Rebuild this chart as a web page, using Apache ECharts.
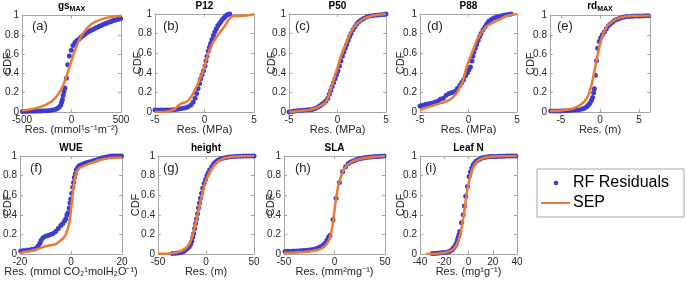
<!DOCTYPE html>
<html>
<head>
<meta charset="utf-8">
<script src="https://cdn.jsdelivr.net/npm/echarts@6/dist/echarts.min.js"></script>
<style>
html, body { margin: 0; padding: 0; background: #fff; }
#chart { width: 685px; height: 284px; }
</style>
</head>
<body>
<div id="chart"></div>
<script>
// ---- panel titles / axis names / ticks ----
var titles = ['{t|gs}{s|MAX}', '{t|P12}', '{t|P50}', '{t|P88}', '{t|rd}{s|MAX}',
              '{t|WUE}', '{t|height}', '{t|SLA}', '{t|Leaf N}'];
var tags = ['(a)', '(b)', '(c)', '(d)', '(e)', '(f)', '(g)', '(h)', '(i)'];
var xNames = ['Res. (mmol¹s⁻¹m⁻²)', 'Res. (MPa)', 'Res. (MPa)', 'Res. (MPa)', 'Res. (m)',
              'Res. (mmol CO₂¹molH₂O⁻¹)', 'Res. (m)', 'Res. (mm²mg⁻¹)', 'Res. (mg¹g⁻¹)'];
var xRanges = [[-500, 500], [-5, 5], [-5, 5], [-5, 5], [-6.4, 6.4],
               [-20, 20], [-50, 50], [-50, 50], [-40, 40]];
var xTicks = [[-500, 0, 500], [-5, 0, 5], [-5, 0, 5], [-5, 0, 5], [-5, 0, 5],
              [-20, 0, 20], [-50, 0, 50], [-50, 0, 50], [-40, -20, 0, 20, 40]];
var yTicks = [0, 0.2, 0.4, 0.6, 0.8, 1];

// ---- RF residuals (empirical CDF, dots) ----
var gsRF = [[-495,0.005],[-460,0.006],[-430,0.007],[-400,0.008],[-370,0.009],[-340,0.01],[-310,0.011],[-280,0.012],[-250,0.014],[-220,0.016],[-190,0.02],[-165,0.025],[-145,0.035],[-125,0.05],[-110,0.07],[-100,0.1],[-92,0.13],[-84,0.17],[-76,0.21],[-66,0.25],[-52,0.35],[-38,0.49],[-22,0.58],[-2,0.64],[15,0.69],[35,0.72],[55,0.74],[75,0.755],[95,0.775],[115,0.79],[135,0.805],[155,0.82],[175,0.835],[195,0.845],[215,0.855],[235,0.865],[255,0.875],[275,0.885],[295,0.895],[315,0.905],[335,0.915],[355,0.92],[375,0.93],[395,0.935],[415,0.945],[435,0.95],[455,0.955],[475,0.962],[495,0.97]];
var p12RF = [[-5,0.02],[-4.7,0.02],[-4.4,0.02],[-4.1,0.02],[-3.8,0.02],[-3.5,0.02],[-3.2,0.022],[-2.9,0.025],[-2.6,0.03],[-2.3,0.035],[-2.0,0.04],[-1.7,0.05],[-1.4,0.07],[-1.15,0.1],[-0.95,0.14],[-0.8,0.19],[-0.65,0.24],[-0.5,0.29],[-0.38,0.34],[-0.25,0.38],[-0.1,0.42],[0.05,0.47],[0.15,0.52],[0.25,0.57],[0.38,0.62],[0.5,0.66],[0.62,0.7],[0.75,0.74],[0.9,0.78],[1.05,0.82],[1.2,0.85],[1.35,0.88],[1.5,0.9],[1.65,0.92],[1.8,0.945],[1.95,0.96],[2.1,0.975],[2.25,0.99],[2.4,0.995],[2.55,1]];
var p50RF = [[-5,0],[-4.7,0.005],[-4.4,0.01],[-4.1,0.012],[-3.8,0.015],[-3.5,0.017],[-3.2,0.02],[-2.9,0.022],[-2.6,0.026],[-2.3,0.035],[-2.0,0.05],[-1.8,0.065],[-1.6,0.08],[-1.4,0.095],[-1.2,0.11],[-1.0,0.14],[-0.85,0.18],[-0.7,0.22],[-0.55,0.26],[-0.4,0.3],[-0.25,0.34],[-0.1,0.38],[0.05,0.42],[0.2,0.47],[0.35,0.52],[0.5,0.57],[0.65,0.61],[0.8,0.65],[0.95,0.69],[1.1,0.73],[1.25,0.77],[1.4,0.8],[1.6,0.84],[1.8,0.87],[2.0,0.9],[2.2,0.92],[2.45,0.94],[2.7,0.955],[3.0,0.97],[3.3,0.98],[3.6,0.983],[3.9,0.986],[4.2,0.99],[4.5,0.993],[4.8,0.996],[5,1]];
var p88RF = [[-5,0.06],[-4.7,0.07],[-4.4,0.08],[-4.1,0.085],[-3.8,0.09],[-3.5,0.1],[-3.2,0.11],[-2.9,0.13],[-2.6,0.14],[-2.3,0.17],[-2.0,0.19],[-1.7,0.2],[-1.4,0.21],[-1.15,0.24],[-0.9,0.27],[-0.7,0.3],[-0.5,0.33],[-0.3,0.37],[-0.1,0.4],[0.05,0.43],[0.2,0.46],[0.35,0.52],[0.45,0.57],[0.55,0.61],[0.7,0.65],[0.85,0.69],[1.0,0.73],[1.15,0.77],[1.3,0.8],[1.5,0.84],[1.7,0.87],[1.9,0.9],[2.1,0.925],[2.35,0.945],[2.6,0.96],[2.9,0.97],[3.2,0.975],[3.5,0.985],[3.8,0.99],[4.1,0.995],[4.4,1]];
var rdRF = [[-6.3,0.01],[-5.9,0.01],[-5.5,0.01],[-5.1,0.01],[-4.7,0.012],[-4.3,0.013],[-3.9,0.015],[-3.5,0.017],[-3.1,0.02],[-2.7,0.022],[-2.3,0.03],[-2.0,0.04],[-1.7,0.055],[-1.5,0.07],[-1.3,0.09],[-1.1,0.12],[-0.95,0.15],[-0.82,0.2],[-0.72,0.24],[-0.6,0.38],[-0.45,0.53],[-0.3,0.66],[-0.1,0.73],[0.1,0.77],[0.3,0.8],[0.55,0.83],[0.8,0.86],[1.05,0.89],[1.3,0.91],[1.6,0.93],[1.9,0.95],[2.2,0.96],[2.5,0.97],[2.8,0.98],[3.1,0.985],[3.4,0.99],[3.8,0.99],[4.2,0.992],[4.6,0.994],[5.0,0.995],[5.4,0.996],[5.8,0.997],[6.2,0.998]];
var wueRF = [[-19.7,0.03],[-18.5,0.035],[-17,0.04],[-15.5,0.045],[-14.3,0.05],[-13.5,0.06],[-12.8,0.085],[-12.2,0.11],[-11.7,0.14],[-11,0.165],[-10,0.18],[-9,0.19],[-8,0.2],[-7,0.21],[-6,0.23],[-5,0.26],[-4,0.29],[-3.2,0.31],[-2.5,0.34],[-2,0.36],[-1.6,0.4],[-1.1,0.42],[-0.7,0.47],[-0.4,0.52],[-0.1,0.56],[0.3,0.62],[0.7,0.68],[1.0,0.73],[1.3,0.78],[1.7,0.82],[2.1,0.86],[2.6,0.88],[3.2,0.9],[4,0.91],[5,0.92],[6,0.93],[7,0.94],[8,0.945],[9,0.955],[10,0.96],[11,0.97],[12,0.98],[13,0.985],[14,0.99],[15,0.995],[16,1],[17,1],[18,1],[19,1],[19.8,1]];
var heightRF = [[-35,0.005],[-32,0.007],[-29,0.01],[-26,0.015],[-23.5,0.025],[-21.5,0.04],[-19.5,0.055],[-17.5,0.075],[-16,0.1],[-14.8,0.13],[-13.8,0.17],[-12.8,0.21],[-11.8,0.26],[-10.8,0.31],[-9.8,0.36],[-8.8,0.41],[-7.8,0.47],[-6.8,0.52],[-5.8,0.57],[-4.6,0.62],[-3.4,0.67],[-2,0.72],[-0.5,0.76],[1,0.8],[2.5,0.83],[4,0.86],[6,0.89],[8,0.92],[10,0.94],[12,0.955],[14,0.965],[16,0.975],[18.5,0.98],[21,0.985],[24,0.99],[27,0.993],[30,0.995],[33,0.997],[36,0.998],[39,1],[42,1],[45,1],[48,1],[50,1]];
var slaRF = [[-49,0.025],[-46,0.027],[-43,0.028],[-40,0.03],[-37,0.031],[-34,0.033],[-31,0.035],[-28,0.038],[-25,0.042],[-22,0.046],[-19,0.052],[-16.5,0.06],[-14,0.075],[-11.5,0.09],[-9.5,0.11],[-7.5,0.14],[-6,0.17],[-4.5,0.19],[-1.5,0.35],[1.5,0.57],[4.8,0.73],[8,0.84],[11,0.89],[13.5,0.92],[16,0.94],[18.5,0.95],[21,0.96],[23.5,0.97],[26,0.975],[28.5,0.98],[31,0.985],[33.5,0.988],[36,0.99],[38.5,0.992],[41,0.994],[43.5,0.996],[46,0.998],[49,1]];
var leafNRF = [[-30,0.005],[-28,0.006],[-26,0.008],[-24,0.01],[-22,0.012],[-20,0.015],[-18,0.018],[-16.5,0.022],[-15,0.03],[-13.8,0.04],[-12.8,0.055],[-11.8,0.07],[-10.8,0.09],[-10,0.11],[-9.2,0.14],[-8.5,0.17],[-7.8,0.2],[-7.2,0.23],[-5.8,0.32],[-4.4,0.4],[-3.4,0.49],[-2.3,0.59],[-0.9,0.69],[0.5,0.79],[1.6,0.84],[2.8,0.88],[4,0.91],[5.2,0.93],[6.5,0.95],[8,0.96],[9.5,0.97],[11,0.98],[13,0.985],[15,0.99],[17,0.992],[19,0.994],[21,0.995],[23,0.996],[25,0.997],[27,0.998],[29,0.998],[31,0.999],[33,1],[35,1],[37,1],[39,1]];

// ---- SEP (fitted CDF, lines) ----
var gsSEP = [[-500,0.015],[-450,0.022],[-400,0.03],[-350,0.042],[-300,0.058],[-250,0.08],[-200,0.11],[-160,0.15],[-130,0.19],[-100,0.24],[-75,0.3],[-50,0.37],[-25,0.45],[0,0.53],[25,0.61],[50,0.68],[75,0.74],[100,0.79],[150,0.86],[200,0.91],[250,0.94],[300,0.96],[350,0.975],[400,0.985],[450,0.992],[500,0.997]];
var p12SEP = [[-5,0],[-4,0.003],[-3.5,0.01],[-3,0.03],[-2.6,0.07],[-2.3,0.09],[-1.9,0.1],[-1.6,0.12],[-1.3,0.16],[-1.0,0.22],[-0.7,0.28],[-0.4,0.35],[-0.1,0.43],[0.1,0.5],[0.3,0.57],[0.5,0.63],[0.8,0.7],[1.1,0.75],[1.4,0.79],[1.7,0.83],[2.0,0.87],[2.3,0.92],[2.6,0.96],[2.9,0.98],[3.5,0.98],[4.2,0.985],[4.7,0.99],[5,1]];
var p50SEP = [[-5,0],[-4.5,0.005],[-4,0.01],[-3.5,0.015],[-3,0.02],[-2.5,0.03],[-2,0.05],[-1.5,0.08],[-1.2,0.1],[-1.0,0.14],[-0.8,0.2],[-0.5,0.29],[-0.2,0.39],[0,0.45],[0.3,0.55],[0.6,0.63],[1.0,0.73],[1.3,0.8],[1.6,0.85],[2.0,0.9],[2.5,0.94],[3,0.965],[3.5,0.98],[4,0.99],[4.5,0.995],[5,1]];
var p88SEP = [[-5,0.02],[-4.5,0.04],[-4,0.055],[-3.5,0.07],[-3,0.085],[-2.5,0.1],[-2,0.12],[-1.7,0.14],[-1.4,0.17],[-1.1,0.21],[-0.9,0.25],[-0.6,0.31],[-0.4,0.38],[-0.2,0.46],[0.1,0.54],[0.4,0.61],[0.7,0.69],[1.0,0.76],[1.4,0.82],[1.8,0.87],[2.3,0.9],[2.7,0.92],[3.1,0.94],[3.5,0.96],[3.9,0.98],[4.4,0.99],[5,1]];
var rdSEP = [[-6.4,0.01],[-5,0.015],[-4,0.025],[-3.3,0.04],[-2.8,0.06],[-2.4,0.08],[-2,0.11],[-1.7,0.14],[-1.4,0.19],[-1.15,0.26],[-0.9,0.35],[-0.7,0.43],[-0.5,0.51],[-0.3,0.59],[-0.1,0.67],[0.15,0.75],[0.4,0.81],[0.7,0.86],[1.0,0.9],[1.5,0.93],[2.0,0.96],[2.5,0.975],[3.2,0.99],[4,0.995],[5,0.998],[6.4,1]];
var wueSEP = [[-20,0.01],[-18,0.02],[-16,0.03],[-14,0.045],[-12,0.06],[-10,0.08],[-8,0.09],[-6,0.1],[-4.5,0.13],[-3,0.16],[-2,0.2],[-1.2,0.26],[-0.6,0.33],[-0.2,0.4],[0.2,0.5],[0.6,0.6],[1,0.69],[1.5,0.77],[2,0.83],[2.6,0.86],[3.5,0.88],[5,0.9],[7,0.92],[9,0.94],[11,0.96],[13,0.97],[15,0.98],[17,0.982],[20,0.985]];
var heightSEP = [[-50,0.003],[-40,0.006],[-35,0.01],[-30,0.018],[-26,0.03],[-22,0.05],[-19,0.08],[-16.5,0.12],[-14.5,0.17],[-12.5,0.24],[-10.5,0.32],[-8.5,0.41],[-6.5,0.5],[-4.5,0.59],[-2.5,0.67],[0,0.75],[3,0.82],[6,0.87],[9,0.91],[12,0.94],[16,0.965],[20,0.98],[25,0.99],[32,0.996],[40,0.999],[50,1]];
var slaSEP = [[-50,0.01],[-40,0.015],[-30,0.02],[-22,0.03],[-17,0.04],[-13,0.055],[-10,0.075],[-7.5,0.1],[-5.5,0.14],[-3.8,0.19],[-2.3,0.27],[-1,0.36],[0.2,0.46],[1.3,0.55],[2.5,0.63],[4,0.71],[6,0.78],[8.5,0.85],[12,0.9],[16,0.935],[20,0.955],[25,0.97],[30,0.98],[38,0.99],[50,1]];
var leafNSEP = [[-35,0],[-30,0.003],[-25,0.006],[-20,0.012],[-16,0.025],[-13,0.045],[-11,0.07],[-9.5,0.1],[-8,0.15],[-6.8,0.2],[-5.5,0.28],[-4.3,0.37],[-3.2,0.46],[-2.1,0.56],[-1,0.65],[0.2,0.73],[1.5,0.8],[3,0.86],[5,0.91],[7,0.945],[10,0.97],[14,0.985],[20,0.995],[30,0.999],[40,1]];

var rfData = [gsRF, p12RF, p50RF, p88RF, rdRF, wueRF, heightRF, slaRF, leafNRF];
var sepData = [gsSEP, p12SEP, p50SEP, p88SEP, rdSEP, wueSEP, heightSEP, slaSEP, leafNSEP];

// layout: [left, top, width, height] of each plot box
var boxes = [[22,14,99,98], [155,14,99,98], [289,14,97,98], [420,14,97,98], [550,14,100,98],
             [20,156,102,98], [158,156,96,98], [284,156,101,98], [420,156,97,98]];
var yNameGaps = [9, 12, 12, 14, 14, 7, 17, 8, 14];
var tagX = [32, 163, 295, 427, 557, 30, 163, 295, 425];

var BLUE = '#3c3cd2';
var ORANGE = '#ec7a30';
var AXIS = '#a6a6a6';
var TXT = '#262626';
var FONT = '"Liberation Sans", Arial, sans-serif';

var grid = [], xAxis = [], yAxis = [], series = [], graphic = [];

boxes.forEach(function (b, i) {
    grid.push({ left: b[0], top: b[1], width: b[2], height: b[3], containLabel: false });
    var tick = { inside: true, length: 3, lineStyle: { color: AXIS } };
    var line = { show: true, onZero: false, lineStyle: { color: AXIS, width: 1 } };
    // bottom x
    xAxis.push({
        type: 'value', gridIndex: i, position: 'bottom',
        min: xRanges[i][0], max: xRanges[i][1],
        axisLine: line, splitLine: { show: false },
        axisTick: Object.assign({ customValues: xTicks[i] }, tick),
        axisLabel: { customValues: xTicks[i], color: TXT, fontSize: 10, fontFamily: FONT, margin: 3 },
        name: xNames[i], nameLocation: 'middle', nameGap: 12, nameMoveOverlap: false,
        nameTextStyle: { color: TXT, fontSize: 11, fontFamily: FONT }
    });
    // top x (box + title)
    xAxis.push({
        type: 'value', gridIndex: i, position: 'top',
        min: xRanges[i][0], max: xRanges[i][1],
        axisLine: line, splitLine: { show: false },
        axisTick: Object.assign({ customValues: xTicks[i] }, tick),
        axisLabel: { show: false },
        name: titles[i], nameLocation: 'middle', nameGap: 3, nameMoveOverlap: false,
        nameTextStyle: {
            color: '#000', fontFamily: FONT,
            rich: {
                t: { fontSize: 10, fontWeight: 'bold', fontFamily: FONT, color: '#000' },
                s: { fontSize: 7, fontWeight: 'bold', fontFamily: FONT, color: '#000', padding: [6, 0, 0, 0] }
            }
        }
    });
    // left y
    yAxis.push({
        type: 'value', gridIndex: i, position: 'left',
        min: 0, max: 1,
        axisLine: line, splitLine: { show: false },
        axisTick: Object.assign({ customValues: yTicks }, tick),
        axisLabel: { customValues: yTicks, color: TXT, fontSize: 10, fontFamily: FONT, margin: 3 },
        name: 'CDF', nameLocation: 'middle', nameGap: yNameGaps[i], nameMoveOverlap: false,
        nameTextStyle: { color: TXT, fontSize: 11, fontFamily: FONT }
    });
    // right y (box)
    yAxis.push({
        type: 'value', gridIndex: i, position: 'right',
        min: 0, max: 1,
        axisLine: line, splitLine: { show: false },
        axisTick: Object.assign({ customValues: yTicks }, tick),
        axisLabel: { show: false }
    });
    series.push({
        name: 'RF Residuals', type: 'scatter',
        xAxisIndex: 2 * i, yAxisIndex: 2 * i,
        data: rfData[i], symbolSize: 5,
        itemStyle: { color: BLUE, opacity: 1 },
        clip: false, z: 2
    });
    series.push({
        name: 'SEP', type: 'line',
        xAxisIndex: 2 * i, yAxisIndex: 2 * i,
        data: sepData[i], symbol: 'none', showSymbol: false,
        lineStyle: { color: ORANGE, width: 2.5 },
        itemStyle: { color: ORANGE }, z: 3
    });
    graphic.push({
        type: 'text', x: tagX[i], y: b[1] + 12,
        style: { text: tags[i], fontSize: 13, fontFamily: FONT, fill: TXT, verticalAlign: 'middle' }
    });
});

// legend box
graphic.push({
    type: 'group', x: 537, y: 169,
    children: [
        { type: 'rect', shape: { x: 0, y: 0, width: 147, height: 48 },
          style: { fill: '#fff', stroke: AXIS, lineWidth: 1 } },
        { type: 'circle', shape: { cx: 19, cy: 14, r: 2.3 }, style: { fill: BLUE } },
        { type: 'text', x: 36, y: 14,
          style: { text: 'RF Residuals', fontSize: 16, fontFamily: FONT, fill: '#000', verticalAlign: 'middle' } },
        { type: 'line', shape: { x1: 4, y1: 34, x2: 33, y2: 34 },
          style: { stroke: ORANGE, lineWidth: 2 } },
        { type: 'text', x: 36, y: 34,
          style: { text: 'SEP', fontSize: 16, fontFamily: FONT, fill: '#000', verticalAlign: 'middle' } }
    ]
});

var myChart = echarts.init(document.getElementById('chart'));
myChart.setOption({
    animation: false,
    backgroundColor: '#fff',
    grid: grid,
    xAxis: xAxis,
    yAxis: yAxis,
    series: series,
    graphic: graphic
});
</script>
</body>
</html>
